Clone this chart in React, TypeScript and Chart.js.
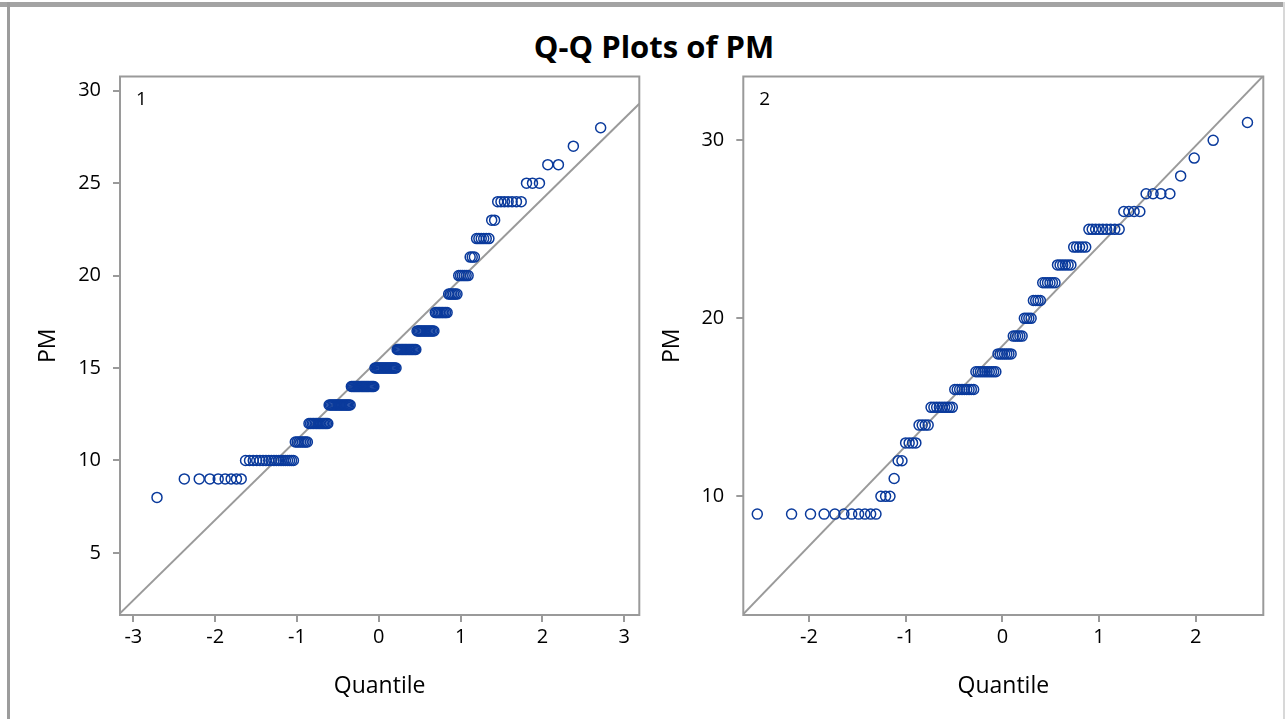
import React, { useEffect, useRef } from "react";
import { Chart, registerables } from "chart.js";

Chart.register(...registerables);

const chartTitle = "Q-Q Plots of PM";
const xAxisTitle = "Quantile";
const yAxisTitle = "PM";

// Panel 1: PM levels and how many observations sit on each level
const panel1Label = "1";
const panel1Levels = [8, 9, 10, 11, 12, 13, 14, 15, 16, 17, 18, 19, 20, 21, 22, 23, 24, 25, 26, 27, 28];
const panel1Counts = [1, 8, 19, 8, 14, 18, 21, 20, 17, 14, 9, 6, 6, 3, 6, 2, 7, 3, 2, 1, 1];
const panel1RefMu = 15.47;
const panel1RefSigma = 4.345;
const panel1XTicks = [-3, -2, -1, 0, 1, 2, 3];
const panel1YTicks = [5, 10, 15, 20, 25, 30];
const panel1XRange = [-3.163, 3.183];
const panel1YRange = [1.639, 30.77];

// Panel 2
const panel2Label = "2";
const panel2Levels = [9, 10, 11, 12, 13, 14, 15, 16, 17, 18, 19, 20, 21, 22, 23, 24, 25, 26, 27, 28, 29, 30, 31];
const panel2Counts = [11, 3, 1, 2, 4, 4, 9, 9, 10, 7, 5, 4, 4, 6, 6, 5, 9, 4, 4, 1, 1, 1, 1];
const panel2RefMu = 18.45;
const panel2RefSigma = 5.62;
const panel2XTicks = [-2, -1, 0, 1, 2];
const panel2YTicks = [10, 20, 30];
const panel2XRange = [-2.68, 2.699];
const panel2YRange = [3.333, 33.585];

const FONT = '"Open Sans", "Noto Sans", sans-serif';
const MARKER_COLOR = "#0a3a9c";
const GRAY = "#9a9a9a";

// inverse standard normal CDF (Acklam)
function invNorm(p: number): number {
  const a = [-3.969683028665376e1, 2.209460984245205e2, -2.759285104469687e2, 1.38357751867269e2, -3.066479806614716e1, 2.506628277459239];
  const b = [-5.447609879822406e1, 1.615858368580409e2, -1.556989798598866e2, 6.680131188771972e1, -1.328068155288572e1];
  const c = [-7.784894002430293e-3, -3.223964580411365e-1, -2.400758277161838, -2.549732539343734, 4.374664141464968, 2.938163982698783];
  const d = [7.784695709041462e-3, 3.224671290700398e-1, 2.445134137142996, 3.754408661907416];
  const pl = 0.02425;
  if (p < pl) {
    const q = Math.sqrt(-2 * Math.log(p));
    return (((((c[0] * q + c[1]) * q + c[2]) * q + c[3]) * q + c[4]) * q + c[5]) / ((((d[0] * q + d[1]) * q + d[2]) * q + d[3]) * q + 1);
  }
  if (p > 1 - pl) {
    const q = Math.sqrt(-2 * Math.log(1 - p));
    return -(((((c[0] * q + c[1]) * q + c[2]) * q + c[3]) * q + c[4]) * q + c[5]) / ((((d[0] * q + d[1]) * q + d[2]) * q + d[3]) * q + 1);
  }
  const q = p - 0.5;
  const r = q * q;
  return ((((((a[0] * r + a[1]) * r + a[2]) * r + a[3]) * r + a[4]) * r + a[5]) * q) / (((((b[0] * r + b[1]) * r + b[2]) * r + b[3]) * r + b[4]) * r + 1);
}

// Q-Q points: sorted observations against Blom normal quantiles
function qqPoints(levels: number[], counts: number[]) {
  const values: number[] = [];
  levels.forEach((v, i) => {
    for (let k = 0; k < counts[i]; k++) values.push(v);
  });
  const n = values.length;
  return values.map((v, i) => ({ x: invNorm((i + 1 - 0.375) / (n + 0.25)), y: v }));
}

const framePlugin = {
  id: "panelFrame",
  afterDraw(chart: any, _args: any, opts: any) {
    const { ctx, chartArea } = chart;
    const { left, top, right, bottom } = chartArea;
    ctx.save();
    ctx.strokeStyle = GRAY;
    ctx.lineWidth = 2;
    ctx.strokeRect(left, top, right - left, bottom - top);
    ctx.fillStyle = "#000";
    ctx.font = `19px ${FONT}`;
    ctx.textBaseline = "alphabetic";
    ctx.textAlign = "left";
    ctx.fillText(opts.label, left + 16, top + 28);
    ctx.restore();
  },
};

type PanelProps = {
  label: string;
  levels: number[];
  counts: number[];
  mu: number;
  sigma: number;
  xTicks: number[];
  yTicks: number[];
  xRange: number[];
  yRange: number[];
  left: number;
  width: number;
  yAxisWidth: number;
  yTitleCenter: number;
  padRight: number;
};

const CANVAS_TOP = 70;
const CANVAS_H = 649;
const AREA_TOP = 75;
const AREA_BOTTOM = 615;

function QQPanel(props: PanelProps) {
  const ref = useRef<HTMLCanvasElement | null>(null);
  useEffect(() => {
    if (!ref.current) return;
    const pts = qqPoints(props.levels, props.counts);
    const [x0, x1] = props.xRange;
    const line = [
      { x: x0, y: props.mu + props.sigma * x0 },
      { x: x1, y: props.mu + props.sigma * x1 },
    ];
    const tickFont = { family: FONT, size: 20 };
    const titleFont = { family: FONT, size: 23 };
    const chart = new Chart(ref.current, {
      type: "scatter",
      data: {
        datasets: [
          {
            data: pts,
            pointStyle: "circle",
            pointRadius: 5,
            pointBorderWidth: 1.5,
            pointBorderColor: MARKER_COLOR,
            pointBackgroundColor: "rgba(0,0,0,0)",
            borderColor: MARKER_COLOR,
            backgroundColor: "rgba(0,0,0,0)",
          },
          {
            data: line,
            showLine: true,
            borderColor: GRAY,
            borderWidth: 2,
            pointRadius: 0,
          },
        ],
      },
      options: {
        animation: false,
        responsive: false,
        maintainAspectRatio: false,
        layout: { padding: { top: AREA_TOP - CANVAS_TOP, right: props.padRight, bottom: 0, left: 0 } },
        plugins: {
          legend: { display: false },
          tooltip: { enabled: false },
          panelFrame: { label: props.label },
        } as any,
        scales: {
          x: {
            type: "linear",
            min: x0,
            max: x1,
            afterBuildTicks: (s: any) => {
              s.ticks = props.xTicks.map((v) => ({ value: v }));
            },
            afterFit: (s: any) => {
              s.height = CANVAS_TOP + CANVAS_H - AREA_BOTTOM;
              s.paddingLeft = 0;
              s.paddingRight = 0;
            },
            border: { display: false },
            grid: { drawOnChartArea: false, drawTicks: true, tickLength: 7, color: GRAY, lineWidth: 2 },
            ticks: { color: "#000", font: tickFont, padding: 3, maxRotation: 0, autoSkip: false },
            title: { display: true, text: xAxisTitle, color: "#000", font: titleFont, padding: { top: 0, bottom: 19 } },
          },
          y: {
            type: "linear",
            min: props.yRange[0],
            max: props.yRange[1],
            afterBuildTicks: (s: any) => {
              s.ticks = props.yTicks.map((v) => ({ value: v }));
            },
            afterFit: (s: any) => {
              s.width = props.yAxisWidth;
              s.paddingTop = 0;
              s.paddingBottom = 0;
            },
            border: { display: false },
            grid: { drawOnChartArea: false, drawTicks: true, tickLength: 7, color: GRAY, lineWidth: 2 },
            ticks: { color: "#000", font: tickFont, padding: 12, autoSkip: false },
            title: {
              display: true,
              text: yAxisTitle,
              color: "#000",
              font: titleFont,
              padding: { top: props.yTitleCenter - 13.8, bottom: 0 },
            },
          },
        },
      },
      plugins: [framePlugin],
    });
    return () => chart.destroy();
  }, []);
  return (
    <canvas
      ref={ref}
      width={props.width}
      height={CANVAS_H}
      style={{ position: "absolute", left: props.left, top: CANVAS_TOP, width: props.width, height: CANVAS_H, display: "block" }}
    />
  );
}

export default function App() {
  return (
    <div style={{ position: "absolute", left: 0, top: 0, width: 1285, height: 719, background: "#fff", overflow: "hidden" }}>
      <div style={{ position: "absolute", left: 0, top: 2, width: 1285, height: 5, background: "#a3a3a3" }} />
      <div style={{ position: "absolute", left: 7, top: 2, width: 3, height: 717, background: "#9c9c9c" }} />
      <div style={{ position: "absolute", left: 1283, top: 2, width: 2, height: 717, background: "#d8d8d8" }} />
      <div
        style={{
          position: "absolute",
          left: 654,
          top: 26,
          transform: "translateX(-50%)",
          fontFamily: FONT,
          fontWeight: 700,
          fontSize: 31,
          lineHeight: "40px",
          whiteSpace: "nowrap",
          color: "#000",
        }}
      >
        {chartTitle}
      </div>
      <QQPanel
        label={panel1Label}
        levels={panel1Levels}
        counts={panel1Counts}
        mu={panel1RefMu}
        sigma={panel1RefSigma}
        xTicks={panel1XTicks}
        yTicks={panel1YTicks}
        xRange={panel1XRange}
        yRange={panel1YRange}
        left={0}
        width={655}
        yAxisWidth={120}
        yTitleCenter={48}
        padRight={655 - 639.3}
      />
      <QQPanel
        label={panel2Label}
        levels={panel2Levels}
        counts={panel2Counts}
        mu={panel2RefMu}
        sigma={panel2RefSigma}
        xTicks={panel2XTicks}
        yTicks={panel2YTicks}
        xRange={panel2XRange}
        yRange={panel2YRange}
        left={655}
        width={630}
        yAxisWidth={88.3}
        yTitleCenter={17}
        padRight={630 - 608.3}
      />
    </div>
  );
}
